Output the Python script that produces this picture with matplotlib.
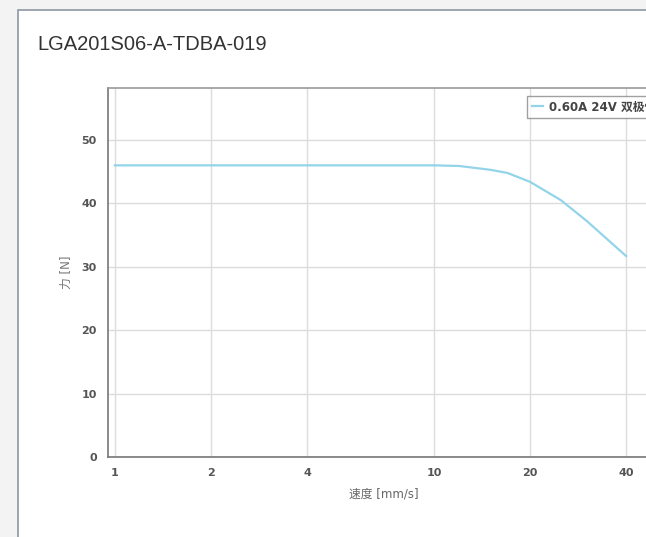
import matplotlib
matplotlib.use("Agg")
import matplotlib.pyplot as plt
from matplotlib.patches import Rectangle

# data
speed = [1, 2, 4, 8, 10, 12, 15, 17, 20, 25, 30, 35, 40]
force = [46, 46, 46, 46, 46, 45.9, 45.3, 44.8, 43.4, 40.5, 37.3, 34.3, 31.7]
x_ticks = [1, 2, 4, 10, 20, 40]
y_ticks = [0, 10, 20, 30, 40, 50]
series_name = "0.60A 24V 双极性"
title = "LGA201S06-A-TDBA-019"

plt.rcParams['font.family'] = ['DejaVu Sans', 'Noto Sans CJK SC']

W, H = 646, 537
fig = plt.figure(figsize=(W / 100, H / 100), dpi=100)
fig.patch.set_facecolor('#f3f3f3')

# white card with border
fig.add_artist(Rectangle((18 / W, -0.05), 1.0, (H - 10) / H + 0.05,
                         transform=fig.transFigure, facecolor='white',
                         edgecolor='#8d98a3', linewidth=1.2, zorder=0))

fig.text(37 / W, 1 - 45 / H, title, fontsize=14.5, color='#333333',
         family=['Liberation Sans', 'DejaVu Sans'], va='center', ha='left')

ax = fig.add_axes([108 / W, 80 / H, 552 / W, 369 / H])
ax.plot(speed, force, color='#93d4ea', linewidth=1.6, label=series_name)
ax.set_xscale('log')
ax.set_xlim(0.951, 51.1)
ax.set_ylim(0, 58.2)
ax.set_xticks(x_ticks)
ax.set_xticklabels([str(t) for t in x_ticks])
ax.minorticks_off()
ax.set_yticks(y_ticks)
ax.tick_params(length=0, labelsize=8, labelcolor='#555555', pad=8)
for lab in ax.get_xticklabels() + ax.get_yticklabels():
    lab.set_fontweight('bold')
ax.grid(True, color='#dcdcdc', linewidth=1)
ax.set_axisbelow(True)
for side in ['left', 'bottom', 'top']:
    ax.spines[side].set_color('#777777')
    ax.spines[side].set_linewidth(1.2)
ax.spines['top'].set_color('#999999')
ax.spines['right'].set_visible(False)

ax.set_xlabel('速度 [mm/s]', fontsize=8.5, color='#666666', labelpad=7)
ax.set_ylabel('力 [N]', fontsize=8.5, color='#777777', labelpad=6)

leg = ax.legend(loc='upper left', bbox_to_anchor=(521 / W, 1 - 90 / H),
                bbox_transform=fig.transFigure, frameon=True, fancybox=False,
                handlelength=1.0, handletextpad=0.5, borderpad=0.4,
                prop={'weight': 'bold', 'size': 8.5})
leg.get_frame().set_edgecolor('#888888')
leg.get_frame().set_linewidth(1)
for t in leg.get_texts():
    t.set_color('#444444')

fig.savefig('out.png', dpi=100)
